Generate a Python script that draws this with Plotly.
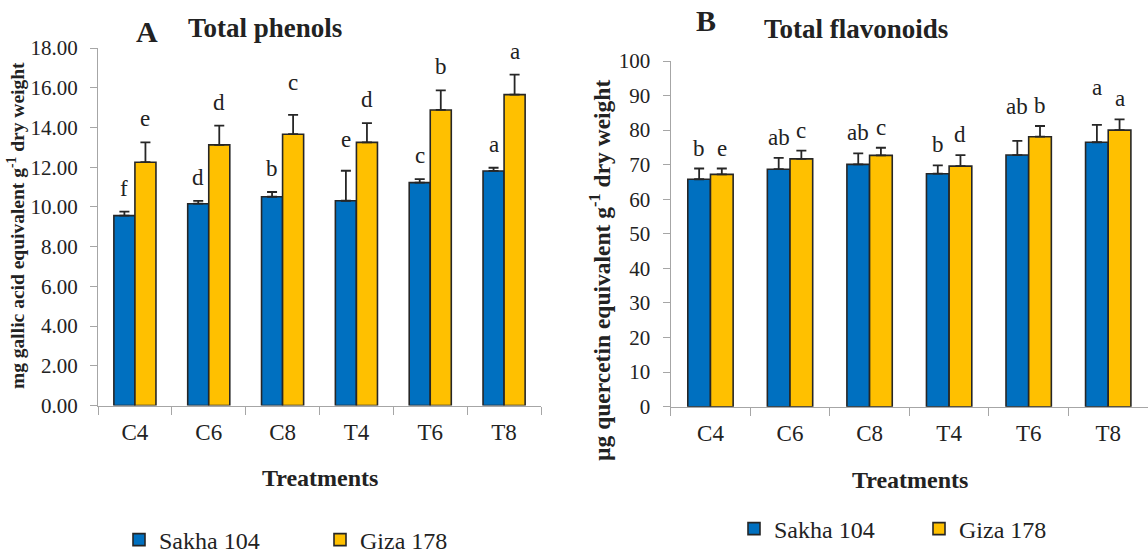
import plotly.graph_objects as go

# Treatments and cultivars
treatments = ["C4", "C6", "C8", "T4", "T6", "T8"]
cultivars = ["Sakha 104", "Giza 178"]

# Total phenols (mg gallic acid equivalent g-1 dry weight)
phenols_sakha = [9.56, 10.16, 10.51, 10.31, 11.22, 11.81]
phenols_sakha_err = [0.20, 0.14, 0.24, 1.51, 0.18, 0.16]
phenols_giza = [12.25, 13.12, 13.66, 13.25, 14.88, 15.65]
phenols_giza_err = [1.00, 0.97, 0.97, 0.97, 0.99, 1.01]
phenols_sakha_letters = ["f", "d", "b", "e", "c", "a"]
phenols_giza_letters = ["e", "d", "c", "d", "b", "a"]

# Total flavonoids (µg quercetin equivalent g-1 dry weight)
flav_sakha = [65.8, 68.7, 70.1, 67.4, 72.8, 76.5]
flav_sakha_err = [3.1, 3.3, 3.2, 2.4, 4.1, 5.0]
flav_giza = [67.2, 71.7, 72.7, 69.6, 78.1, 80.0]
flav_giza_err = [1.7, 2.4, 2.2, 3.2, 3.1, 3.1]
flav_sakha_letters = ["b", "ab", "ab", "b", "ab", "a"]
flav_giza_letters = ["e", "c", "c", "d", "b", "a"]

W, H = 1148, 556
FONT = "Liberation Serif"
INK = "#222222"
AXIS = "#a6a6a6"
BLUE = "#0070C0"
GOLD = "#FFC000"
OUTLINE = "#262626"
BARGAP = 0.43

# extra pixel lift for a few letters that sit higher above their bars
LETTER_LIFT = {("A", 0, 3): 8, ("A", 1, 2): 9, ("B", 0, 4): 14, ("B", 0, 5): 17}


def px_x(p):
    return p / W


def px_y(p):
    return 1 - p / H


def bar(x, y, err, name, color, xa, ya, legend):
    return go.Bar(
        x=x, y=y, name=name, xaxis=xa, yaxis=ya, legend=legend,
        marker=dict(color=color, line=dict(color=OUTLINE, width=1.6)),
        error_y=dict(type="data", array=err, arrayminus=[0] * len(err),
                     symmetric=False, color=OUTLINE, thickness=1.8, width=5),
    )


fig = go.Figure()
fig.add_trace(bar(treatments, phenols_sakha, phenols_sakha_err, cultivars[0], BLUE, "x", "y", "legend"))
fig.add_trace(bar(treatments, phenols_giza, phenols_giza_err, cultivars[1], GOLD, "x", "y", "legend"))
fig.add_trace(bar(treatments, flav_sakha, flav_sakha_err, cultivars[0], BLUE, "x2", "y2", "legend2"))
fig.add_trace(bar(treatments, flav_giza, flav_giza_err, cultivars[1], GOLD, "x2", "y2", "legend2"))

xaxis_common = dict(
    type="category", showline=True, linecolor=AXIS, linewidth=1.3,
    ticks="outside", tickson="boundaries", tickcolor=AXIS, ticklen=8,
    tickwidth=1.3, showgrid=False, zeroline=False,
    tickfont=dict(family=FONT, size=23, color=INK), ticklabelstandoff=6,
)
yaxis_common = dict(
    showline=True, linecolor=AXIS, linewidth=1.3, ticks="outside",
    tickcolor=AXIS, ticklen=7, tickwidth=1.3, showgrid=False, zeroline=False,
    tickfont=dict(family=FONT, size=21, color=INK), ticklabelstandoff=8,
)

fig.update_layout(
    width=W, height=H,
    font=dict(family=FONT, color=INK),
    margin=dict(l=0, r=0, t=0, b=0, autoexpand=False),
    paper_bgcolor="white", plot_bgcolor="white",
    barmode="group", bargap=BARGAP, bargroupgap=0,
    xaxis=dict(domain=[px_x(98), px_x(541)], anchor="y", **xaxis_common),
    yaxis=dict(domain=[px_y(405.5), px_y(48)], anchor="x", range=[0, 18],
               dtick=2, tickformat=".2f", **yaxis_common),
    xaxis2=dict(domain=[px_x(670.7), 1.0], anchor="y2", **xaxis_common),
    yaxis2=dict(domain=[px_y(406.7), px_y(61)], anchor="x2", range=[0, 100],
                dtick=10, **yaxis_common),
    legend=dict(orientation="h", x=px_x(119), y=px_y(540), xanchor="left",
                yanchor="middle", font=dict(family=FONT, size=24, color=INK),
                entrywidth=156, entrywidthmode="pixels",
                bgcolor="rgba(0,0,0,0)"),
    legend2=dict(orientation="h", x=px_x(734), y=px_y(529), xanchor="left",
                 yanchor="middle", font=dict(family=FONT, size=24, color=INK),
                 entrywidth=140, entrywidthmode="pixels",
                 bgcolor="rgba(0,0,0,0)"),
    showlegend=True,
)

annotations = []

# significance letters above the error bars
half = (1 - BARGAP) / 4
for panel, xa, ya, base_shift, series in (
    ("A", "x", "y", 9,
     [(phenols_sakha, phenols_sakha_err, phenols_sakha_letters, -half),
      (phenols_giza, phenols_giza_err, phenols_giza_letters, half)]),
    ("B", "x2", "y2", 6,
     [(flav_sakha, flav_sakha_err, flav_sakha_letters, -half),
      (flav_giza, flav_giza_err, flav_giza_letters, half)]),
):
    for s, (vals, errs, letters, off) in enumerate(series):
        for i, (v, e, lab) in enumerate(zip(vals, errs, letters)):
            annotations.append(dict(
                x=i + off, y=v + e, xref=xa, yref=ya, text=lab,
                showarrow=False, yanchor="bottom",
                yshift=base_shift + LETTER_LIFT.get((panel, s, i), 0),
                font=dict(family=FONT, size=23, color=INK),
            ))

# panel labels and titles
for txt, cx, cy, size in (
    ("<b>A</b>", 147, 32, 30), ("<b>Total phenols</b>", 265, 28, 27),
    ("<b>B</b>", 706, 21, 30), ("<b>Total flavonoids</b>", 856, 29, 27),
):
    annotations.append(dict(x=px_x(cx), y=px_y(cy), xref="paper", yref="paper",
                            text=txt, showarrow=False, xanchor="center",
                            yanchor="middle", font=dict(family=FONT, size=size, color=INK)))

# axis titles
for cx, cy in ((320, 477.5), (910, 480)):
    annotations.append(dict(x=px_x(cx), y=px_y(cy), xref="paper", yref="paper",
                            text="<b>Treatments</b>", showarrow=False,
                            xanchor="center", yanchor="middle",
                            font=dict(family=FONT, size=24, color=INK)))

annotations.append(dict(x=px_x(16), y=px_y(226), xref="paper", yref="paper",
                        text="<b>mg gallic acid equivalent g<sup>-1</sup> dry weight</b>",
                        textangle=-90, showarrow=False, xanchor="center", yanchor="middle",
                        font=dict(family=FONT, size=19.5, color=INK)))
annotations.append(dict(x=px_x(600), y=px_y(271), xref="paper", yref="paper",
                        text="<b>µg quercetin equivalent g<sup>-1</sup> dry weight</b>",
                        textangle=-90, showarrow=False, xanchor="center", yanchor="middle",
                        font=dict(family=FONT, size=23.5, color=INK)))

fig.update_layout(annotations=annotations)

fig.write_html("out.html")
